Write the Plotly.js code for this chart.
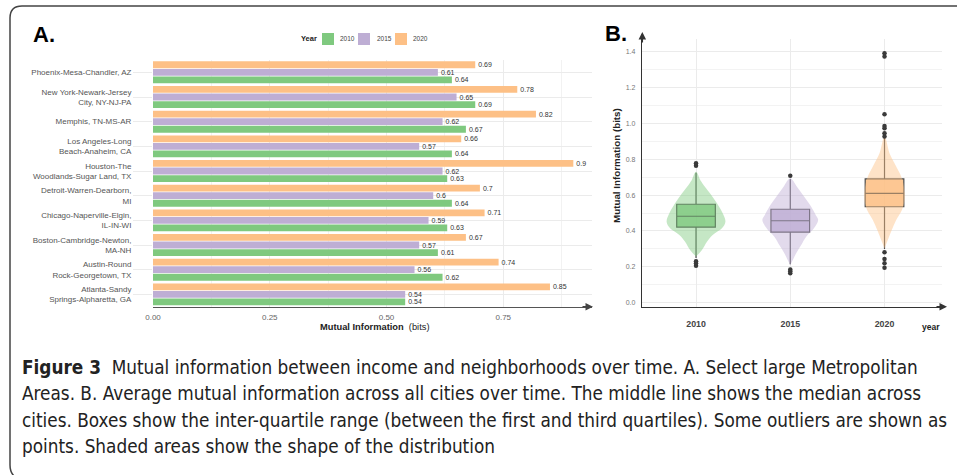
<!DOCTYPE html>
<html>
<head>
<meta charset="utf-8">
<script src="https://cdn.plot.ly/plotly-3.0.1.min.js"></script>
<style>html,body{margin:0;padding:0;background:#fff;}#chart{width:957px;height:475px;}</style>
</head>
<body>
<div id="chart"></div>
<script>
// ---------- Panel A data (cities listed top to bottom) ----------
const cities = [
  'Phoenix-Mesa-Chandler, AZ',
  'New York-Newark-Jersey<br>City, NY-NJ-PA',
  'Memphis, TN-MS-AR',
  'Los Angeles-Long<br>Beach-Anaheim, CA',
  'Houston-The<br>Woodlands-Sugar Land, TX',
  'Detroit-Warren-Dearborn,<br>MI',
  'Chicago-Naperville-Elgin,<br>IL-IN-WI',
  'Boston-Cambridge-Newton,<br>MA-NH',
  'Austin-Round<br>Rock-Georgetown, TX',
  'Atlanta-Sandy<br>Springs-Alpharetta, GA'
];
const mi2010 = [0.64, 0.69, 0.67, 0.64, 0.63, 0.64, 0.63, 0.61, 0.62, 0.54];
const mi2015 = [0.61, 0.65, 0.62, 0.57, 0.62, 0.6, 0.59, 0.57, 0.56, 0.54];
const mi2020 = [0.69, 0.78, 0.82, 0.66, 0.9, 0.7, 0.71, 0.67, 0.74, 0.85];
const seriesNames = ['2010', '2015', '2020'];
const xTickVals = [0, 0.25, 0.5, 0.75];
const xTickText = ['0.00', '0.25', '0.50', '0.75'];

// ---------- Panel B data ----------
const years = ['2010', '2015', '2020'];
const q1 = [0.422, 0.394, 0.535];
const median = [0.482, 0.457, 0.61];
const q3 = [0.549, 0.521, 0.69];
const lowerFence = [0.25, 0.215, 0.30];
const upperFence = [0.725, 0.69, 0.92];
const outliers2010 = [0.777, 0.764, 0.232, 0.22, 0.206];
const outliers2015 = [0.708, 0.186, 0.176, 0.164];
const outliers2020 = [1.39, 1.372, 1.051, 0.985, 0.972, 0.945, 0.926, 0.281, 0.244, 0.22, 0.195];
// violin outline: levels (bits) and half-widths (category units)
const violinLevels2010 = [0.73, 0.684, 0.666, 0.61, 0.554, 0.499, 0.452, 0.415, 0.378, 0.34, 0.294, 0.257];
const violinHalf2010   = [0, 0.045, 0.067, 0.148, 0.222, 0.283, 0.312, 0.275, 0.177, 0.116, 0.063, 0];
const violinLevels2015 = [0.694, 0.647, 0.591, 0.535, 0.489, 0.461, 0.415, 0.368, 0.322, 0.276, 0.22, 0.21];
const violinHalf2015   = [0, 0.071, 0.148, 0.222, 0.27, 0.296, 0.251, 0.169, 0.116, 0.063, 0.01, 0];
const violinLevels2020 = [0.935, 0.907, 0.833, 0.777, 0.703, 0.65, 0.58, 0.517, 0.461, 0.405, 0.35, 0.303];
const violinHalf2020   = [0, 0.018, 0.053, 0.106, 0.177, 0.205, 0.215, 0.185, 0.124, 0.077, 0.035, 0];

const colors = ['#7fc97f', '#beaed4', '#fdc086'];
const violinFill = ['rgba(127,201,127,0.45)', 'rgba(190,174,212,0.45)', 'rgba(253,192,134,0.45)'];
const boxFill = ['rgba(127,201,127,0.8)', 'rgba(190,174,212,0.8)', 'rgba(253,192,134,0.8)'];

const W = 957, H = 475;
const fx = p => p / W;
const fy = p => 1 - p / H;
const FONT = 'Liberation Sans, Arial, sans-serif';

const traces = [];
// Panel A bars
[mi2010, mi2015, mi2020].forEach((vals, i) => {
  traces.push({
    type: 'bar', orientation: 'h', name: seriesNames[i],
    y: cities, x: vals, xaxis: 'x', yaxis: 'y',
    marker: {color: colors[i]},
    text: vals.map(v => String(v)), textposition: 'outside',
    textfont: {size: 7, color: '#333', family: FONT},
    constraintext: 'none', cliponaxis: false,
    showlegend: false, hoverinfo: 'x'
  });
});

// Panel B violins
const vLevels = [violinLevels2010, violinLevels2015, violinLevels2020];
const vHalf = [violinHalf2010, violinHalf2015, violinHalf2020];
vLevels.forEach((lv, i) => {
  const hw = vHalf[i];
  const xs = lv.map((_, k) => i + hw[k]).concat(lv.map((_, k) => i - hw[k]).reverse());
  const ys = lv.concat(lv.slice().reverse());
  traces.push({
    type: 'scatter', mode: 'lines', x: xs, y: ys, xaxis: 'x2', yaxis: 'y2',
    fill: 'toself', fillcolor: violinFill[i], line: {width: 0, shape: 'spline'},
    showlegend: false, hoverinfo: 'skip'
  });
});
// Panel B boxes
years.forEach((yr, i) => {
  traces.push({
    type: 'box', name: yr, x: [i], xaxis: 'x2', yaxis: 'y2',
    q1: [q1[i]], median: [median[i]], q3: [q3[i]],
    lowerfence: [lowerFence[i]], upperfence: [upperFence[i]],
    width: 0.41, whiskerwidth: 0, boxpoints: false,
    fillcolor: boxFill[i], line: {color: '#4a4a4a', width: 1.2},
    showlegend: false
  });
});
// Panel B outliers
[outliers2010, outliers2015, outliers2020].forEach((arr, i) => {
  traces.push({
    type: 'scatter', mode: 'markers', x: arr.map(() => i), y: arr,
    xaxis: 'x2', yaxis: 'y2',
    marker: {color: '#3a3a3a', size: 4.5},
    showlegend: false, hoverinfo: 'y'
  });
});

const catOrder = cities.slice().reverse();

const annotations = [
  {text: '<b>A.</b>', x: fx(44), y: fy(34), font: {size: 22, color: '#000', family: FONT}},
  {text: '<b>B.</b>', x: fx(616), y: fy(33), font: {size: 22, color: '#000', family: FONT}},
  {text: '<b>Year</b>', x: fx(299), y: fy(39), xanchor: 'left', font: {size: 7.5, color: '#222', family: FONT}},
  {text: '2010', x: fx(338), y: fy(39), xanchor: 'left', font: {size: 6.5, color: '#444', family: FONT}},
  {text: '2015', x: fx(375), y: fy(39), xanchor: 'left', font: {size: 6.5, color: '#444', family: FONT}},
  {text: '2020', x: fx(411), y: fy(39), xanchor: 'left', font: {size: 6.5, color: '#444', family: FONT}},
  {text: '<b>Mutual Information</b>  (bits)', x: fx(375), y: fy(326.5), font: {size: 9.3, color: '#222', family: FONT}},
  {text: '<b>Mutual Information (bits)</b>', x: fx(616), y: fy(166), textangle: -90, font: {size: 9.8, color: '#222', family: FONT}},
  {text: '<b>year</b>', x: fx(931), y: fy(327), font: {size: 8.5, color: '#222', family: FONT}},
  // axis arrows
  {text: '', x: fx(593), y: fy(306.7), ax: -12, ay: 0, showarrow: true, arrowhead: 2, arrowsize: 1, arrowwidth: 1.5, arrowcolor: '#444'},
  {text: '', x: fx(947), y: fy(306.7), ax: -12, ay: 0, showarrow: true, arrowhead: 2, arrowsize: 1, arrowwidth: 1.5, arrowcolor: '#333'},
  {text: '', x: fx(642.3), y: fy(32), ax: 0, ay: 12, showarrow: true, arrowhead: 2, arrowsize: 1, arrowwidth: 1.5, arrowcolor: '#333'}
].map(a => Object.assign({xref: 'paper', yref: 'paper', showarrow: false, xanchor: 'center', yanchor: 'middle'}, a));

const capFont = {size: 18.8, color: '#222', family: 'Liberation Sans Narrow, DejaVu Sans Condensed, Arial Narrow, sans-serif'};
const captionLines = [
  '<b>Figure 3</b>  Mutual information between income and neighborhoods over time. A. Select large Metropolitan',
  'Areas. B. Average mutual information across all cities over time. The middle line shows the median across',
  'cities. Boxes show the inter-quartile range (between the first and third quartiles). Some outliers are shown as',
  'points. Shaded areas show the shape of the distribution'
];
const capY = [367, 393.5, 420, 446.5];
captionLines.forEach((t, i) => annotations.push({
  text: t, xref: 'paper', yref: 'paper', x: fx(20), y: fy(capY[i]),
  xanchor: 'left', yanchor: 'middle', showarrow: false, font: capFont
}));

const legendX = [322, 358, 395];
const shapes = legendX.map((x0, i) => ({
  type: 'rect', xref: 'paper', yref: 'paper',
  x0: fx(x0), x1: fx(x0 + 12), y0: fy(45), y1: fy(33),
  fillcolor: colors[i], line: {width: 0}
}));
shapes.push({
  type: 'path', xref: 'paper', yref: 'paper',
  path: `M ${fx(957)},${fy(6)} L ${fx(22)},${fy(6)} Q ${fx(10)},${fy(6)} ${fx(10)},${fy(18)} L ${fx(10)},${fy(465)} Q ${fx(10)},${fy(472)} ${fx(14)},${fy(476)}`,
  line: {color: '#444', width: 1.5}
});

const layout = {
  width: W, height: H,
  margin: {l: 0, r: 0, t: 0, b: 0},
  paper_bgcolor: '#fff', plot_bgcolor: '#fff',
  font: {family: FONT},
  barmode: 'group', bargap: 0.08, bargroupgap: 0.1,
  showlegend: false,
  xaxis: {
    domain: [fx(153), fx(592)], range: [0, 0.94], anchor: 'y',
    tickmode: 'array', tickvals: xTickVals, ticktext: xTickText,
    tickfont: {size: 8, color: '#666', family: FONT}, ticks: '', ticklabelstandoff: 2,
    showline: true, linecolor: '#555', linewidth: 1.5,
    showgrid: true, gridcolor: '#ebebeb', gridwidth: 1, zeroline: false,
    minor: {tickmode: 'linear', tick0: 0, dtick: 0.125, showgrid: true, gridcolor: '#f2f2f2', gridwidth: 1}
  },
  yaxis: {
    domain: [fy(306.7), fy(60)], anchor: 'x', type: 'category',
    categoryorder: 'array', categoryarray: catOrder, range: [-0.5, 9.5],
    tickfont: {size: 8, color: '#555', family: FONT},
    ticks: 'outside', ticklen: 19, tickcolor: '#ebebeb', tickwidth: 1,
    showgrid: true, gridcolor: '#ebebeb', showline: false, zeroline: false
  },
  xaxis2: {
    domain: [fx(642.3), fx(942)], range: [-0.57, 2.61], anchor: 'y2',
    tickmode: 'array', tickvals: [0, 1, 2], ticktext: years,
    tickfont: {size: 8.8, color: '#444', family: FONT, weight: 'bold'}, ticks: '', ticklabelstandoff: 8,
    showline: true, linecolor: '#333', linewidth: 1.5,
    showgrid: true, gridcolor: '#ebebeb', zeroline: false
  },
  yaxis2: {
    domain: [fy(306.7), fy(39)], range: [-0.022, 1.47], anchor: 'x2',
    tickmode: 'array', tickvals: [0, 0.2, 0.4, 0.6, 0.8, 1.0, 1.2, 1.4],
    tickformat: '.1f', tickfont: {size: 7, color: '#777', family: FONT}, ticks: '', ticklabelstandoff: 4,
    showline: true, linecolor: '#333', linewidth: 1.5,
    showgrid: true, gridcolor: '#ebebeb', zeroline: false,
    minor: {tickmode: 'linear', tick0: 0, dtick: 0.1, showgrid: true, gridcolor: '#f3f3f3'}
  },
  annotations: annotations,
  shapes: shapes
};

Plotly.newPlot('chart', traces, layout, {displayModeBar: false, staticPlot: true});
</script>
</body>
</html>
